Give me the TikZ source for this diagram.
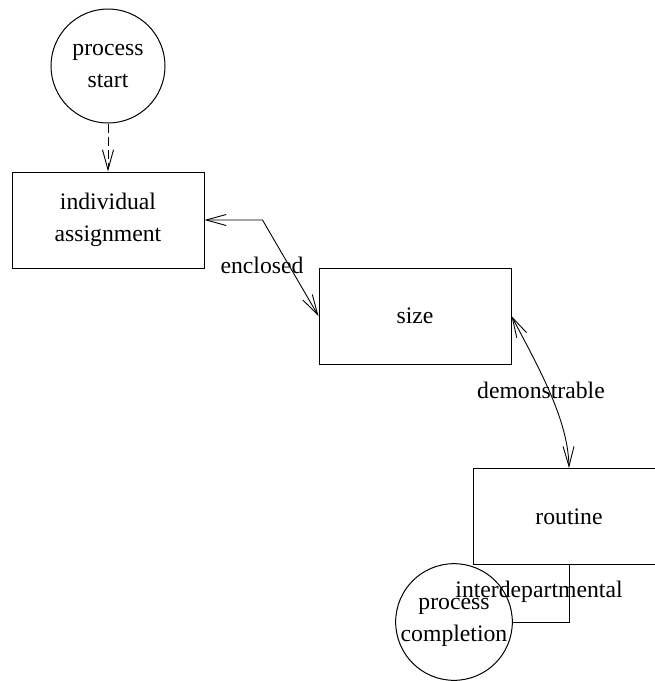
\documentclass[tikz,border=0pt]{standalone}
\usepackage{fontspec}
\setmainfont{Liberation Serif}
\usetikzlibrary{arrows.meta,positioning}

\begin{document}
\begin{tikzpicture}[
    x=1pt, y=-1pt,
    box/.style={rectangle, draw, line width=1pt, minimum width=192pt,
                minimum height=96pt, inner sep=0pt, align=center},
    terminal/.style={circle, draw, line width=1pt, minimum size=114pt,
                     inner sep=0pt, align=center},
    elabel/.style={inner sep=0pt},
    link/.style={line width=0.9pt, {Straight Barb[length=20pt,width=11pt]}-{Straight Barb[length=20pt,width=11pt]}},
    font=\fontsize{23.7}{32}\selectfont
  ]
    \useasboundingbox (0,0) rectangle (655,681);

    \node[terminal] (start) at (108,66) {process\\start};
    \node[box] (assign) at (108,220) {individual\\assignment};
    \node[box] (size) at (415,316) {size};
    \node[box] (routine) at (569,516.5) {routine};
    \node[terminal] (done) at (454,622) {process\\completion};

    \draw[line width=0.9pt, dash pattern=on 9pt off 4pt, -{Straight Barb[length=20pt,width=11pt]}]
      (start.south) -- (assign.north);
    \draw[link] (assign.east) -- ++(58,0) -- (size.west);
    \draw[link] (size.east) .. controls (540,370) and (568,420) .. (routine.north);
    \draw[line width=0.9pt] (routine.south) |- (done.east);

    % edge labels
    \node[elabel] (lbl1) at (262,265) {enclosed};
    \node[elabel] (lbl2) at (541,390) {demonstrable};
    \node[elabel] (lbl3) at (539,592) {interdepartmental};
  \end{tikzpicture}
\end{document}
